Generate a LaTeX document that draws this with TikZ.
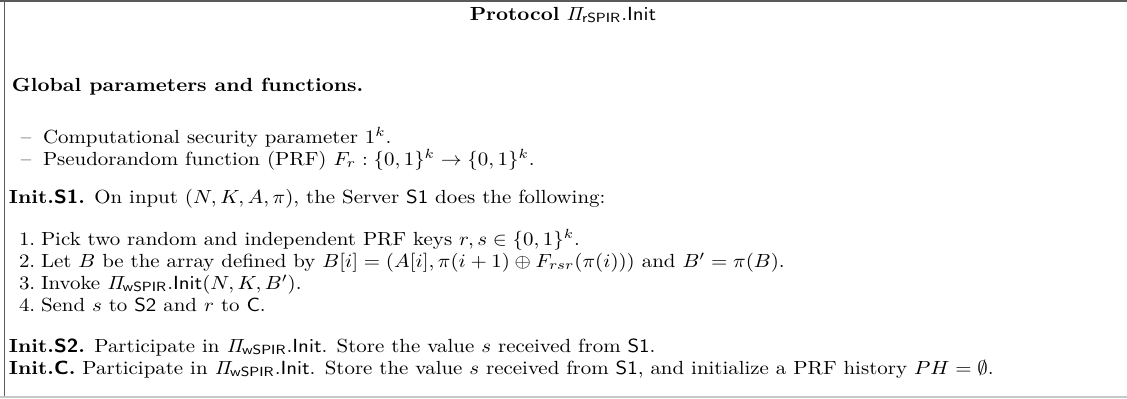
\documentclass[tikz,border=0pt]{standalone}
\usepackage{amsmath,amssymb}
\definecolor{framedark}{HTML}{5A5A5A}
\definecolor{framelight}{HTML}{C8C8C8}
\newcommand{\sx}[1]{\scalebox{1.1}[1.0]{#1}}
\tikzset{
  txt/.style={anchor=base west, inner sep=0pt, outer sep=0pt, font=\fontsize{10}{12}\selectfont},
  ttl/.style={anchor=base, inner sep=0pt, outer sep=0pt, font=\fontsize{10}{12}\selectfont},
}
\newcommand{\wPi}{\mathit{\Pi}}
\begin{document}
\begin{tikzpicture}[x=0.5263pt,y=-0.5263pt]
\useasboundingbox (0,0) rectangle (1127,398);
% frame
\draw[framedark, line width=1.0pt] (0,0.9) -- (1127,0.9);
\draw[framedark, line width=0.9pt] (4.6,0) -- (4.6,398);
\draw[framelight, line width=0.9pt] (0,397) -- (1127,397);
% title
\node[ttl] (title) at (563,20) {\sx{\textbf{Protocol} $\wPi_{\mathsf{rSPIR}}.\mathsf{Init}$}};
% global
\node[txt] (glob) at (12,91) {\sx{\textbf{Global parameters and functions.}}};
\node[txt] (d1) at (21,143) {\sx{--}};
\node[txt] (g1) at (43,143) {\sx{Computational security parameter $1^k$.}};
\node[txt] (d2) at (21,165) {\sx{--}};
\node[txt] (g2) at (43,165) {\sx{Pseudorandom function (PRF) $F_r:\{0,1\}^k\rightarrow\{0,1\}^k$.}};
% S1
\node[txt] (s1) at (9,203) {\sx{\textbf{Init.\textsf{S1}.} On input $(N,K,A,\pi)$, the Server $\mathsf{S1}$ does the following:}};
\node[txt] (n1) at (19,245) {\sx{1.}};
\node[txt] (i1) at (41,245) {\sx{Pick two random and independent PRF keys $r,s\in\{0,1\}^k$.}};
\node[txt] (n2) at (19,267) {\sx{2.}};
\node[txt] (i2) at (41,267) {\sx{Let $B$ be the array defined by $B[i]=(A[i],\pi(i+1)\oplus F_{rsr}(\pi(i)))$ and $B'=\pi(B)$.}};
\node[txt] (n3) at (19,289) {\sx{3.}};
\node[txt] (i3) at (41,289) {\sx{Invoke $\wPi_{\mathsf{wSPIR}}.\mathsf{Init}(N,K,B')$.}};
\node[txt] (n4) at (19,311) {\sx{4.}};
\node[txt] (i4) at (41,311) {\sx{Send $s$ to $\mathsf{S2}$ and $r$ to $\mathsf{C}$.}};
% S2, C
\node[txt] (s2) at (9,352) {\sx{\textbf{Init.\textsf{S2}.} Participate in $\wPi_{\mathsf{wSPIR}}.\mathsf{Init}$. Store the value $s$ received from $\mathsf{S1}$.}};
\node[txt] (c) at (9,374) {\sx{\textbf{Init.\textsf{C}.} Participate in $\wPi_{\mathsf{wSPIR}}.\mathsf{Init}$. Store the value $s$ received from $\mathsf{S1}$, and initialize a PRF history $PH=\emptyset$.}};
\end{tikzpicture}
\end{document}
